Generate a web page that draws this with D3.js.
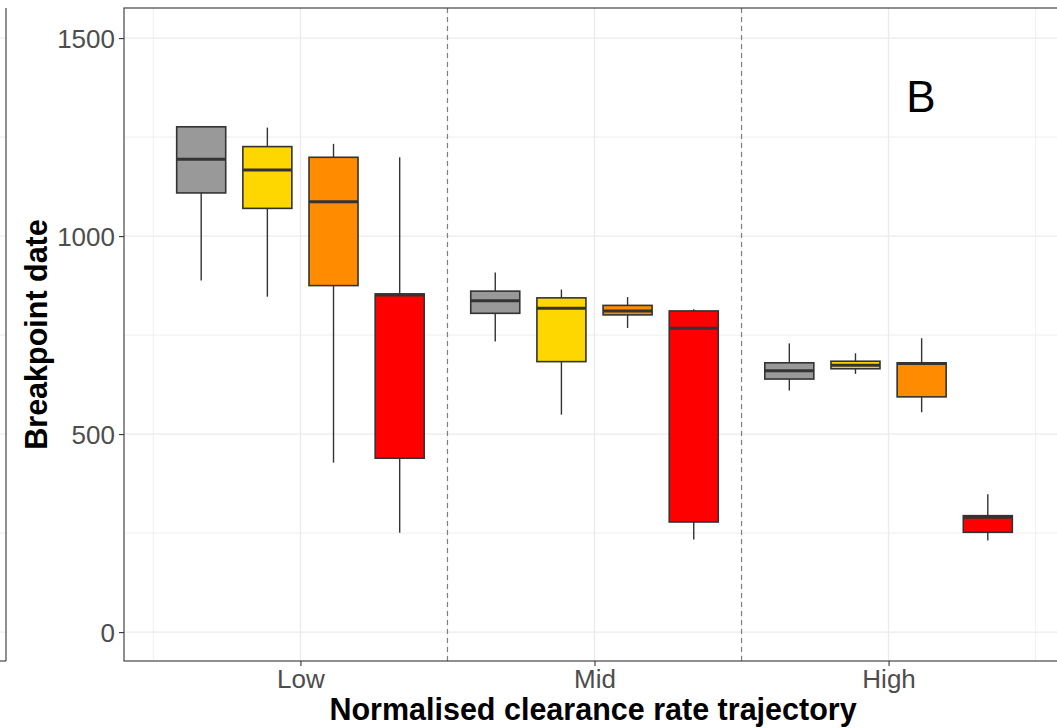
<!DOCTYPE html>
<html>
<head>
<meta charset="utf-8">
<script src="https://cdn.jsdelivr.net/npm/d3@7"></script>
<style>
  html, body { margin: 0; padding: 0; background: #fff; }
  svg { display: block; font-family: "Liberation Sans", Arial, Helvetica, sans-serif; }
</style>
</head>
<body>
<svg id="chart" width="1057" height="728"></svg>
<script>
// ---- Data ----
const categories = ["Low", "Mid", "High"];
const series = ["grey", "yellow", "orange", "red"];
const seriesColors = ["#999999", "#FFD700", "#FF8C00", "#FF0000"];
// five-number summaries per category, per series: [whiskerLow, q1, median, q3, whiskerHigh]
const lowStats = [
  [888, 1109, 1194, 1276, 1276],
  [847, 1070, 1167, 1226, 1274],
  [428, 875, 1087, 1199, 1233],
  [251, 439, 851, 854, 1199]
];
const midStats = [
  [734, 805, 837, 861, 908],
  [549, 683, 818, 844, 865],
  [768, 801, 811, 825, 846],
  [234, 278, 767, 811, 815]
];
const highStats = [
  [610, 639, 660, 680, 729],
  [652, 665, 674, 684, 704],
  [555, 594, 678, 680, 742],
  [231, 252, 290, 294, 348]
];
const yTicks = [0, 500, 1000, 1500];
const yMinor = [250, 750, 1250];
const panelLabel = "B";
const xTitle = "Normalised clearance rate trajectory";
const yTitle = "Breakpoint date";

const statsByCat = [lowStats, midStats, highStats];

// ---- Layout ----
const svg = d3.select("#chart");
const P = { left: 124, right: 1065, top: 8, bottom: 661 };

const x = d3.scaleLinear().domain([0.4, 3.6]).range([P.left, P.right]);
const y = d3.scaleLinear().domain([-73, 1576]).range([P.bottom, P.top]);
const dodge = d3.scaleBand().domain(series).range([-0.45, 0.45]);
const boxW = (x(1) - x(0)) * 0.1667;

// neighbouring panel sliver on the left
const gl = svg.append("g");
gl.selectAll("line.g").data(yTicks.concat(yMinor)).join("line")
  .attr("x1", 0).attr("x2", 6).attr("y1", d => y(d)).attr("y2", d => y(d))
  .attr("stroke", "#EBEBEB").attr("stroke-width", 1);
gl.append("line").attr("x1", 6).attr("x2", 6).attr("y1", P.top).attr("y2", P.bottom)
  .attr("stroke", "#333").attr("stroke-width", 1.1);
gl.append("line").attr("x1", 0).attr("x2", 6).attr("y1", P.bottom).attr("y2", P.bottom)
  .attr("stroke", "#333").attr("stroke-width", 1.1);

svg.append("defs").append("clipPath").attr("id", "pc")
  .append("rect").attr("x", P.left).attr("y", P.top).attr("width", P.right - P.left).attr("height", P.bottom - P.top);

const g = svg.append("g").attr("clip-path", "url(#pc)");

// grid
g.selectAll("line.ymin").data(yMinor).join("line")
  .attr("x1", P.left).attr("x2", P.right).attr("y1", d => y(d)).attr("y2", d => y(d))
  .attr("stroke", "#EBEBEB").attr("stroke-width", 0.8);
g.selectAll("line.ymaj").data(yTicks).join("line")
  .attr("x1", P.left).attr("x2", P.right).attr("y1", d => y(d)).attr("y2", d => y(d))
  .attr("stroke", "#EBEBEB").attr("stroke-width", 1.4);
const xMinor = [0.5, 1.5, 2.5, 3.5];
g.selectAll("line.xmin").data(xMinor).join("line")
  .attr("y1", P.top).attr("y2", P.bottom).attr("x1", d => x(d)).attr("x2", d => x(d))
  .attr("stroke", "#EBEBEB").attr("stroke-width", 0.8);
g.selectAll("line.xmaj").data(categories.map((c, i) => i + 1)).join("line")
  .attr("y1", P.top).attr("y2", P.bottom).attr("x1", d => x(d)).attr("x2", d => x(d))
  .attr("stroke", "#EBEBEB").attr("stroke-width", 1.4);

// dashed separators
g.selectAll("line.sep").data([1.5, 2.5]).join("line")
  .attr("y1", P.top).attr("y2", P.bottom).attr("x1", d => x(d)).attr("x2", d => x(d))
  .attr("stroke", "#7F7F7F").attr("stroke-width", 1.2).attr("stroke-dasharray", "5,4");

// boxes
const flat = [];
statsByCat.forEach((arr, ci) => arr.forEach((s, si) => flat.push({ ci, si, s })));
const bx = d => x(d.ci + 1 + dodge(series[d.si]) + dodge.bandwidth() / 2);

const bg = g.selectAll("g.box").data(flat).join("g").attr("class", "box");
bg.append("line")
  .attr("x1", bx).attr("x2", bx).attr("y1", d => y(d.s[4])).attr("y2", d => y(d.s[3]))
  .attr("stroke", "#333").attr("stroke-width", 1.4);
bg.append("line")
  .attr("x1", bx).attr("x2", bx).attr("y1", d => y(d.s[1])).attr("y2", d => y(d.s[0]))
  .attr("stroke", "#333").attr("stroke-width", 1.4);
bg.append("rect")
  .attr("x", d => bx(d) - boxW / 2).attr("width", boxW)
  .attr("y", d => y(d.s[3])).attr("height", d => Math.max(0.5, y(d.s[1]) - y(d.s[3])))
  .attr("fill", d => seriesColors[d.si]).attr("stroke", "#333").attr("stroke-width", 1.6);
bg.append("line")
  .attr("x1", d => bx(d) - boxW / 2).attr("x2", d => bx(d) + boxW / 2)
  .attr("y1", d => y(d.s[2])).attr("y2", d => y(d.s[2]))
  .attr("stroke", "#333").attr("stroke-width", 3);

// panel border
svg.append("rect").attr("x", P.left).attr("y", P.top).attr("width", P.right - P.left).attr("height", P.bottom - P.top)
  .attr("fill", "none").attr("stroke", "#333").attr("stroke-width", 1.1);

// axes
const yAxis = svg.append("g").attr("transform", `translate(${P.left},0)`)
  .call(d3.axisLeft(y).tickValues(yTicks).tickSize(5).tickPadding(4).tickFormat(d3.format("d")));
yAxis.select(".domain").remove();
yAxis.selectAll(".tick line").attr("stroke", "#333").attr("stroke-width", 1.1);
yAxis.selectAll(".tick text").attr("fill", "#4D4D4D").attr("font-size", 26).attr("dy", "0.36em")
  .attr("font-family", "Liberation Sans, Arial, sans-serif");

const xAxis = svg.append("g").attr("transform", `translate(0,${P.bottom})`)
  .call(d3.axisBottom(x).tickValues([1, 2, 3]).tickSize(5).tickPadding(4).tickFormat(d => categories[d - 1]));
xAxis.select(".domain").remove();
xAxis.selectAll(".tick line").attr("stroke", "#333").attr("stroke-width", 1.1);
xAxis.selectAll(".tick text").attr("fill", "#4D4D4D").attr("font-size", 26).attr("dy", "0.68em")
  .attr("font-family", "Liberation Sans, Arial, sans-serif");

// titles
svg.append("text").attr("x", 593).attr("y", 720).attr("text-anchor", "middle")
  .attr("font-size", 30.5).attr("font-weight", "bold").attr("fill", "#000").text(xTitle);
svg.append("text").attr("transform", `translate(47,${(P.top + P.bottom) / 2}) rotate(-90)`)
  .attr("text-anchor", "middle").attr("font-size", 30.5).attr("font-weight", "bold").attr("fill", "#000").text(yTitle);

// panel label
svg.append("text").attr("x", 921).attr("y", 112).attr("text-anchor", "middle")
  .attr("font-size", 44).attr("fill", "#000").text(panelLabel);
</script>
</body>
</html>
